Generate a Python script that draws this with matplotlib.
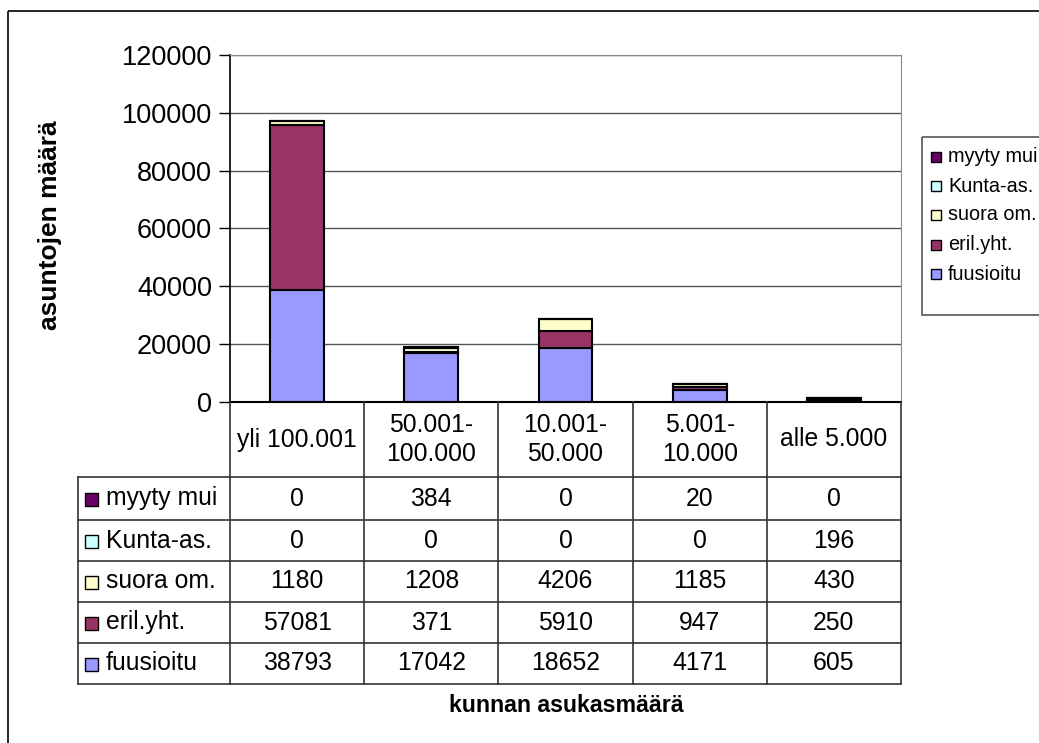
import numpy as np
import matplotlib
matplotlib.use("Agg")
import matplotlib.pyplot as plt
from matplotlib.patches import Rectangle

plt.rcParams['font.family'] = ['Liberation Sans', 'DejaVu Sans']

# kunnan asukasmäärä -luokat
categories = ["yli 100.001", "50.001-\n100.000", "10.001-\n50.000", "5.001-\n10.000", "alle 5.000"]

# sarjat alhaalta ylös pinottuna
series_names = ["fuusioitu", "eril.yht.", "suora om.", "Kunta-as.", "myyty mui"]
fuusioitu = [38793, 17042, 18652, 4171, 605]
eril_yht = [57081, 371, 5910, 947, 250]
suora_om = [1180, 1208, 4206, 1185, 430]
kunta_as = [0, 0, 0, 0, 196]
myyty_mui = [0, 384, 0, 20, 0]
series_values = [fuusioitu, eril_yht, suora_om, kunta_as, myyty_mui]
colors = ["#9999FF", "#993366", "#FFFFCC", "#CCFFFF", "#660066"]

W, H = 1039, 743
fig = plt.figure(figsize=(W / 100, H / 100), dpi=100)

# kaavioalue pikseleinä
left, right, top, bottom = 230, 901, 55, 402
ax = fig.add_axes([left / W, 1 - bottom / H, (right - left) / W, (bottom - top) / H])
x = np.arange(len(categories))
base = np.zeros(len(categories))
for name, vals, col in zip(series_names, series_values, colors):
    ax.bar(x, vals, width=0.4, bottom=base, color=col, edgecolor="black",
           linewidth=1.5, zorder=3)
    base += np.array(vals)

ax.set_xlim(-0.5, len(categories) - 0.5)
ax.set_ylim(0, 120000)
ax.set_yticks(np.arange(0, 120001, 20000))
ax.tick_params(axis='y', labelsize=19.5, length=8, width=1, direction='out', pad=5)
ax.set_xticks([])
ax.yaxis.grid(True, color="#555555", linewidth=1)
for s in ["top", "right"]:
    ax.spines[s].set_color("#888888")
ax.spines["left"].set_color("black")
ax.spines["left"].set_linewidth(1.2)
ax.spines["bottom"].set_visible(False)

# taulukko ja kehykset piirretään pikselikoordinaateissa
ov = fig.add_axes([0, 0, 1, 1], zorder=5)
ov.set_xlim(0, W)
ov.set_ylim(H, 0)
ov.axis("off")
ov.patch.set_alpha(0)

# ulkokehys
ov.add_patch(Rectangle((8, 11), 1040, 740, fill=False, edgecolor="black", linewidth=1.2))

ov.text(50, 225, "asuntojen määrä", rotation=90, ha="center", va="center",
        fontsize=19, fontweight="bold")

col_edges = np.linspace(left, right, len(categories) + 1)
row_edges = [477, 520, 561, 602, 643, 684]
label_left = 78
lc = "#333333"

# otsikkorivi
ov.plot([left, right], [bottom, bottom], color="black", lw=1.5)
for cx in col_edges:
    ov.plot([cx, cx], [bottom, row_edges[-1]], color=lc, lw=1.2)
for ry in row_edges:
    ov.plot([label_left, right], [ry, ry], color=lc, lw=1.2)
ov.plot([label_left, label_left], [row_edges[0], row_edges[-1]], color=lc, lw=1.2)

for i, cat in enumerate(categories):
    cx = (col_edges[i] + col_edges[i + 1]) / 2
    ov.text(cx, (bottom + row_edges[0]) / 2, cat, ha="center", va="center",
            fontsize=17.8, linespacing=1.25)

# datarivit ylhäältä alas
table_rows = list(zip(series_names, series_values, colors))[::-1]
for r, (name, vals, col) in enumerate(table_rows):
    cy = (row_edges[r] + row_edges[r + 1]) / 2
    ov.add_patch(Rectangle((85, cy - 6), 13, 13, facecolor=col, edgecolor="black", lw=1))
    ov.text(106, cy, name, ha="left", va="center", fontsize=17.8)
    for i, v in enumerate(vals):
        cx = (col_edges[i] + col_edges[i + 1]) / 2
        ov.text(cx, cy, str(v), ha="center", va="center", fontsize=17.8)

ov.text(566, 705, "kunnan asukasmäärä", ha="center", va="center",
        fontsize=16.7, fontweight="bold")

# selite
ov.add_patch(Rectangle((922, 137), 140, 178, fill=False, edgecolor="#555555", lw=1.2))
leg_y = [157, 186, 215, 245, 274]
for (name, col), ly in zip(list(zip(series_names, colors))[::-1], leg_y):
    ov.add_patch(Rectangle((931, ly - 5), 10, 10, facecolor=col, edgecolor="black", lw=1))
    ov.text(948, ly, name, ha="left", va="center", fontsize=14.3)

fig.savefig("out.png", dpi=100)
